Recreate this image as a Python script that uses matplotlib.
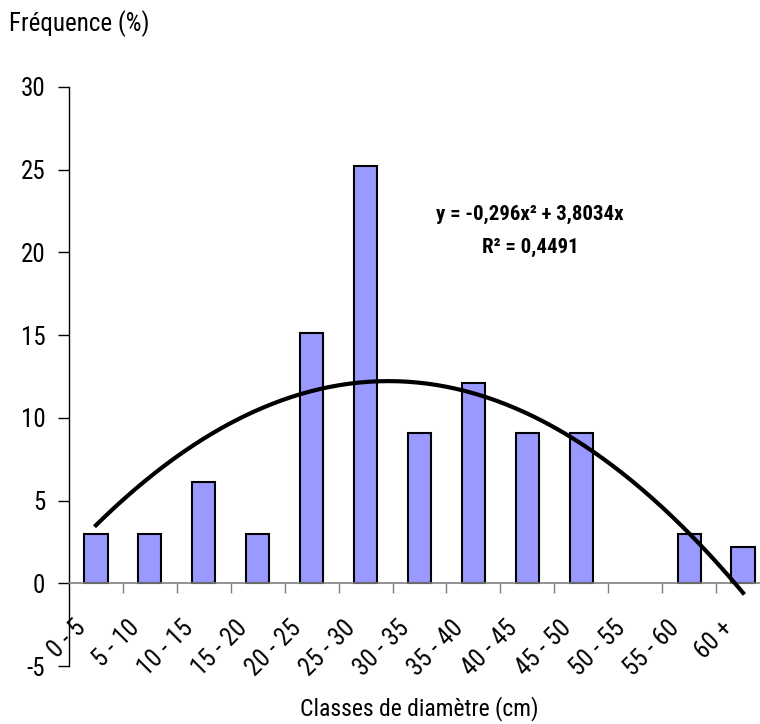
import numpy as np
import matplotlib.pyplot as plt
from matplotlib.transforms import offset_copy

plt.rcParams['font.family'] = ['Roboto Condensed', 'Liberation Sans', 'DejaVu Sans']
plt.rcParams['axes.unicode_minus'] = False

classes = ['0 - 5', '5 - 10', '10 - 15', '15 - 20', '20 - 25', '25 - 30', '30 - 35',
           '35 - 40', '40 - 45', '45 - 50', '50 - 55', '55 - 60', '60 +']
freq = [3, 3, 6.1, 3, 15.1, 25.2, 9.1, 12.1, 9.1, 9.1, 0, 3, 2.2]
# courbe de tendance polynomiale (Excel)
a2, a1 = -0.296, 3.8034
eq_text = 'y = -0,296x² + 3,8034x'
r2_text = 'R² = 0,4491'

fig = plt.figure(figsize=(7.6, 7.24), dpi=100)
ax = fig.add_axes([0.0908, 0.0801, 1.0132 - 0.0908, 0.880 - 0.0801])

x = np.arange(1, len(classes) + 1)
lw = [1.5 if f > 0 else 0 for f in freq]
ax.bar(x, freq, width=0.43, color='#9999FF', edgecolor='black', linewidth=lw, zorder=2)

xs = np.linspace(1, len(classes), 200)
ax.plot(xs, a2 * xs**2 + a1 * xs, color='black', linewidth=3, zorder=3, clip_on=False)

ax.set_xlim(0.5, len(classes) + 0.5)
ax.set_ylim(-5, 30)
ax.set_yticks(range(-5, 31, 5))
ax.tick_params(axis='y', direction='out', length=8, width=1, labelsize=18, pad=9)

for s in ['top', 'right']:
    ax.spines[s].set_visible(False)
ax.spines['left'].set_linewidth(1)
ax.spines['bottom'].set_position(('data', 0))
ax.spines['bottom'].set_color('#808080')
ax.spines['bottom'].set_linewidth(1.2)

ax.set_xticks(np.arange(1.5, len(classes), 1))
ax.set_xticklabels([])
ax.tick_params(axis='x', direction='out', length=7, width=1, color='#808080')

lab_tr = offset_copy(ax.transData, fig=fig, x=-9, y=-46, units='dots')
for xi, c in zip(x, classes):
    ax.text(xi, 0, c, transform=lab_tr, rotation=45, rotation_mode='anchor',
            ha='right', va='baseline', fontsize=18)

ax.text(9.05, 22.3, eq_text, ha='center', va='center', fontsize=15, fontweight='bold')
ax.text(9.05, 20.3, r2_text, ha='center', va='center', fontsize=15, fontweight='bold')

fig.text(9 / 760, 1 - 24 / 724, 'Fréquence (%)', ha='left', va='center', fontsize=18)
fig.text(419 / 760, 1 - 709 / 724, 'Classes de diamètre (cm)', ha='center', va='center', fontsize=17)

fig.savefig('out.png', dpi=100)
